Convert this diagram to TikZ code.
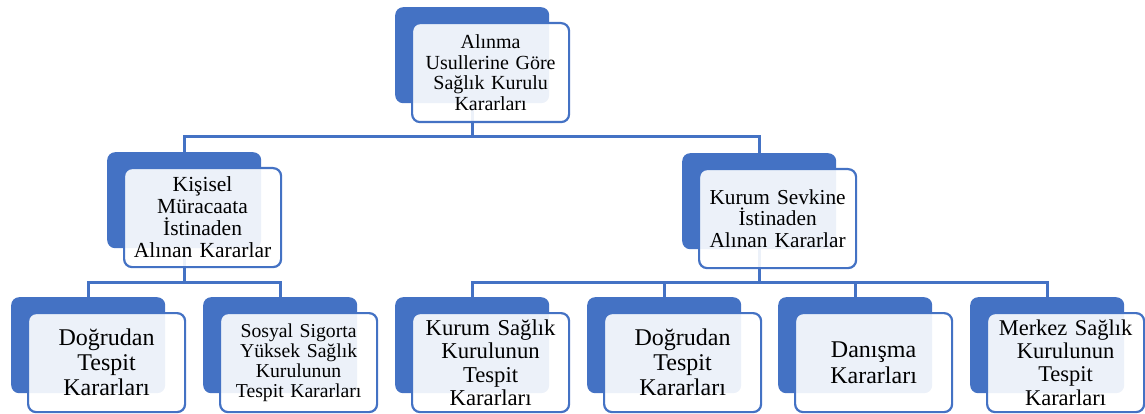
\documentclass[tikz,border=0pt]{standalone}
\usepackage{fontspec}
\setmainfont{Liberation Serif}
\definecolor{accent}{HTML}{4472C4}
\begin{document}
\begin{tikzpicture}[x=1pt,y=-1pt,
  backbox/.style={fill=accent, rounded corners=8pt, minimum width=154pt,
    minimum height=96pt, inner sep=0pt, anchor=north west},
  frontbox/.style={draw=accent, line width=2.2pt, fill=white, fill opacity=0.9,
    text opacity=1, rounded corners=8pt, minimum width=157pt, minimum height=99pt,
    inner sep=0pt, align=center, text width=155pt, anchor=north west},
  link/.style={draw=accent, line width=2.6pt}]
\useasboundingbox (0,0) rectangle (1145,414);

% solid back panels
\node[backbox] (top-b) at (395,7) {};
\node[backbox] (kis-b) at (107,152) {};
\node[backbox] (kur-b) at (682,153) {};
\node[backbox] (a-b) at (11,297) {};
\node[backbox] (b-b) at (203,297) {};
\node[backbox] (c-b) at (395,297) {};
\node[backbox] (d-b) at (587,297) {};
\node[backbox] (e-b) at (778,297) {};
\node[backbox] (f-b) at (970,297) {};

% connectors
\coordinate (bus1) at ([yshift=-33pt]top-b.south);
\draw[link] (top-b.south) -- (bus1) -| (kis-b.north);
\draw[link] (bus1) -| (kur-b.north);
\coordinate (bus2) at ([yshift=-34pt]kis-b.south);
\draw[link] (kis-b.south) -- (bus2) -| (a-b.north);
\draw[link] (bus2) -| (b-b.north);
\coordinate (bus3) at ([yshift=-33pt]kur-b.south);
\draw[link] (kur-b.south) -- (bus3) -| (c-b.north);
\draw[link] (bus3) -| (f-b.north);
\draw[link] (bus3 -| d-b.north) -- (d-b.north);
\draw[link] (bus3 -| e-b.north) -- (e-b.north);

% translucent front panels with labels
\node[frontbox, font=\fontsize{20}{20.5}\selectfont] (top) at (411,22)
  {Alınma\\Usullerine Göre\\Sağlık Kurulu\\Kararları};
\node[frontbox, font=\fontsize{21.5}{22}\selectfont] (kis) at (123,167)
  {Kişisel\\Müracaata\\İstinaden\\Alınan Kararlar};
\node[frontbox, font=\fontsize{21.3}{21.7}\selectfont] (kur) at (698,168)
  {Kurum Sevkine\\İstinaden\\Alınan Kararlar};
\node[frontbox, font=\fontsize{24}{25}\selectfont] (a) at (27,312)
  {Doğrudan\\Tespit\\Kararları};
\node[frontbox, font=\fontsize{19.7}{20}\selectfont] (b) at (219,312)
  {Sosyal Sigorta\\Yüksek Sağlık\\Kurulunun\\Tespit Kararları};
\node[frontbox, font=\fontsize{22.7}{23.3}\selectfont] (c) at (411,312)
  {Kurum Sağlık\\Kurulunun\\Tespit\\Kararları};
\node[frontbox, font=\fontsize{24}{25}\selectfont] (d) at (603,312)
  {Doğrudan\\Tespit\\Kararları};
\node[frontbox, font=\fontsize{24}{26.5}\selectfont] (e) at (794,312)
  {Danışma\\Kararları};
\node[frontbox, font=\fontsize{22.5}{23.3}\selectfont] (f) at (986,312)
  {Merkez Sağlık\\Kurulunun\\Tespit\\Kararları};
\end{tikzpicture}
\end{document}
